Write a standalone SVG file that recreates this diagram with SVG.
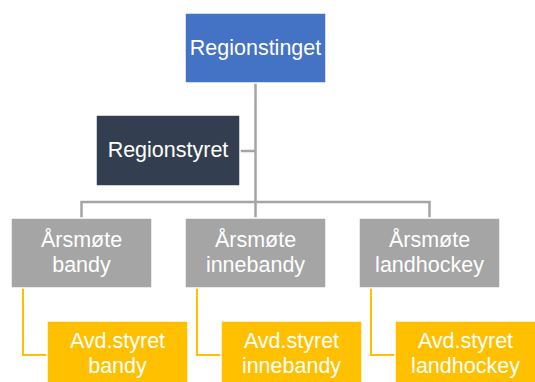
<svg xmlns="http://www.w3.org/2000/svg" width="535" height="382" viewBox="0 0 535 382">
<style>
.box{stroke:#ffffff;stroke-width:1.5}
.t{font-family:"Liberation Sans","Open Sans",sans-serif;font-size:21.5px;fill:#ffffff;text-anchor:middle}
.g{fill:none;stroke:#a5a5a5;stroke-width:2.5}
.y{fill:none;stroke:#ffc000;stroke-width:2}
</style>
<rect width="535" height="382" fill="#ffffff"/>
<g id="connectors">
<path class="g" d="M255.5 83 V218"/>
<path class="g" d="M240 151 H255.5"/>
<path class="g" d="M81.5 218 V202 H429.5 V218"/>
<path class="y" d="M23 288 V355 H47"/>
<path class="y" d="M197 288 V355 H221"/>
<path class="y" d="M371 288 V355 H395"/>
</g>
<g id="regionstinget">
<rect class="box" x="185" y="13" width="141" height="70" fill="#4472c4"/>
<text class="t" x="255.5" y="55">Regionstinget</text>
</g>
<g id="regionstyret">
<rect class="box" x="96" y="115" width="144" height="71" fill="#333f50"/>
<text class="t" x="168" y="157">Regionstyret</text>
</g>
<g id="arsmote-bandy">
<rect class="box" x="11" y="218" width="141" height="70" fill="#a5a5a5"/>
<text class="t" x="81.5" y="247">Årsmøte</text>
<text class="t" x="81.5" y="272">bandy</text>
</g>
<g id="arsmote-innebandy">
<rect class="box" x="185" y="218" width="141" height="70" fill="#a5a5a5"/>
<text class="t" x="255.5" y="247">Årsmøte</text>
<text class="t" x="255.5" y="272">innebandy</text>
</g>
<g id="arsmote-landhockey">
<rect class="box" x="359" y="218" width="141" height="70" fill="#a5a5a5"/>
<text class="t" x="429.5" y="247">Årsmøte</text>
<text class="t" x="429.5" y="272">landhockey</text>
</g>
<g id="avd-bandy">
<rect class="box" x="47" y="321" width="141" height="70" fill="#ffc000"/>
<text class="t" x="117.5" y="348">Avd.styret</text>
<text class="t" x="117.5" y="373">bandy</text>
</g>
<g id="avd-innebandy">
<rect class="box" x="221" y="321" width="141" height="70" fill="#ffc000"/>
<text class="t" x="291.5" y="348">Avd.styret</text>
<text class="t" x="291.5" y="373">innebandy</text>
</g>
<g id="avd-landhockey">
<rect class="box" x="395" y="321" width="141" height="70" fill="#ffc000"/>
<text class="t" x="465.5" y="348">Avd.styret</text>
<text class="t" x="465.5" y="373">landhockey</text>
</g>
</svg>
